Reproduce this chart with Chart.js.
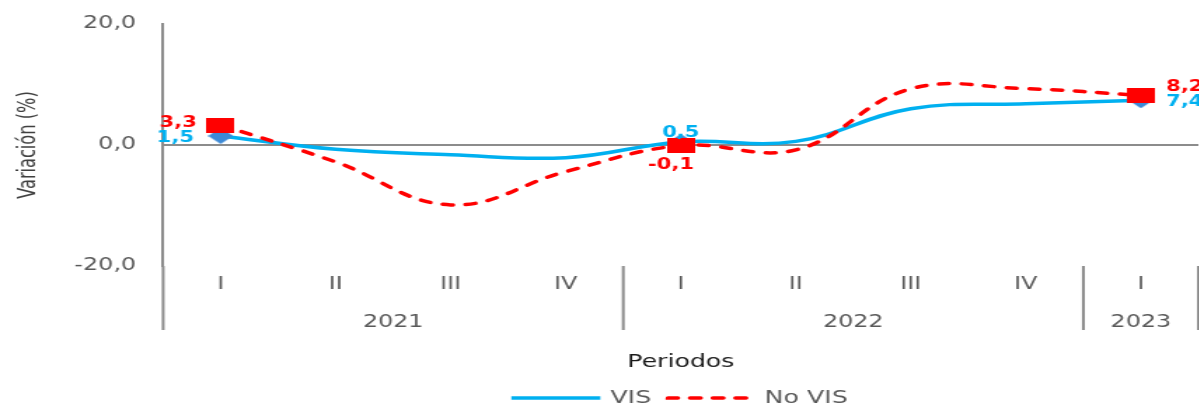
<!DOCTYPE html>
<html>
<head>
<meta charset="utf-8">
<script src="https://cdn.jsdelivr.net/npm/chart.js@4.4.0/dist/chart.umd.min.js"></script>
<style>
  html, body { margin: 0; padding: 0; background: #fff; overflow: hidden; }
  /* the reference is stretched sideways, so the chart is drawn narrower and widened */
  #wrap { width: 866.5px; height: 403px; transform: scaleX(1.4); transform-origin: 0 0; }
</style>
</head>
<body>
<div id="wrap"><canvas id="myChart"></canvas></div>
<script>
// Data
const quarters = ['I', 'II', 'III', 'IV', 'I', 'II', 'III', 'IV', 'I'];
const years = ['2021', '2022', '2023'];
const quartersPerYear = [4, 4, 1];
const vis = [1.5, -0.7, -1.6, -2.1, 0.5, 0.6, 6.0, 6.8, 7.4];
const noVis = [3.3, -2.8, -9.9, -4.4, -0.1, -0.8, 9.3, 9.3, 8.2];
const yTicks = [-20, 0, 20];
const labeled = [0, 4, 8];

const fmt = v => v.toFixed(1).replace('.', ',');

// Marker images
function makeMarker(w, h, color, diamond) {
    const c = document.createElement('canvas');
    c.width = w; c.height = h;
    const g = c.getContext('2d');
    g.fillStyle = color;
    if (diamond) {
        g.beginPath();
        g.moveTo(w / 2, 0); g.lineTo(w, h / 2); g.lineTo(w / 2, h); g.lineTo(0, h / 2);
        g.closePath(); g.fill();
    } else {
        g.fillRect(0, 0, w, h);
    }
    return c;
}
const diamond = makeMarker(18, 16, '#3d8ad6', true);
const square = makeMarker(20, 15, '#ff0000', false);

// Year groups and dividers under the quarter labels
const groups = {
    id: 'groups',
    afterDraw(chart) {
        const x = chart.scales.x, ctx = chart.ctx;
        const step = x.getPixelForValue(1) - x.getPixelForValue(0);
        const x0 = x.getPixelForValue(0) - step / 2;
        const edges = [0];
        quartersPerYear.forEach(n => edges.push(edges[edges.length - 1] + n));
        ctx.save();
        ctx.strokeStyle = '#8c8c8c';
        ctx.lineWidth = 2;
        edges.forEach(i => {
            ctx.beginPath();
            ctx.moveTo(x0 + i * step, chart.chartArea.bottom);
            ctx.lineTo(x0 + i * step, 330);
            ctx.stroke();
        });
        ctx.font = '17px "DejaVu Sans"';
        ctx.fillStyle = '#595959';
        ctx.textAlign = 'center';
        ctx.textBaseline = 'middle';
        years.forEach((y, k) => {
            const a = x.getPixelForValue(edges[k]);
            const b = x.getPixelForValue(edges[k + 1] - 1);
            ctx.fillText(y, (a + b) / 2, 323);
        });
        ctx.restore();
    }
};

// Data labels
const valueLabels = {
    id: 'valueLabels',
    afterDatasetsDraw(chart) {
        const ctx = chart.ctx;
        ctx.save();
        ctx.font = 'bold 15px "DejaVu Sans"';
        ctx.textBaseline = 'middle';
        chart.data.datasets.forEach((ds, di) => {
            const meta = chart.getDatasetMeta(di);
            labeled.forEach((idx, k) => {
                const pt = meta.data[idx];
                const pos = ds.labelPos[k];
                ctx.fillStyle = ds.borderColor;
                ctx.textAlign = pos[2];
                ctx.fillText(fmt(ds.data[idx]), pt.x + pos[0], pt.y + pos[1]);
            });
        });
        ctx.restore();
    }
};

Chart.defaults.font.family = '"DejaVu Sans", sans-serif';

const ctx = document.getElementById('myChart').getContext('2d');
const myChart = new Chart(ctx, {
    type: 'line',
    data: {
        labels: quarters,
        datasets: [{
            label: 'VIS',
            data: vis,
            borderColor: '#00b0f0',
            backgroundColor: '#00b0f0',
            borderWidth: 3.5,
            tension: 0.4,
            order: 1,
            pointStyle: diamond,
            pointRadius: c => labeled.includes(c.dataIndex) ? 8 : 0,
            labelPos: [[-19, 2.5, 'right'], [0, -9, 'center'], [18, 2, 'left']]
        }, {
            label: 'No VIS',
            data: noVis,
            borderColor: '#ff0000',
            backgroundColor: '#ff0000',
            borderWidth: 3.5,
            borderDash: [7, 9.2],
            borderCapStyle: 'round',
            tension: 0.4,
            order: 0,
            pointStyle: square,
            pointRadius: c => labeled.includes(c.dataIndex) ? 8 : 0,
            labelPos: [[-17, -1.7, 'right'], [-7, 20, 'center'], [18, -8, 'left']]
        }]
    },
    options: {
        animation: false,
        responsive: true,
        maintainAspectRatio: false,
        layout: { padding: { top: 24, right: 1.43, bottom: -14, left: 0 } },
        plugins: {
            tooltip: { enabled: false },
            legend: {
                position: 'bottom',
                fullSize: false,
                labels: {
                    boxWidth: 60,
                    boxHeight: 0.001,
                    padding: 12,
                    color: '#595959',
                    font: { size: 18 },
                    sort: (a, b) => a.datasetIndex - b.datasetIndex
                }
            }
        },
        scales: {
            x: {
                offset: true,
                grid: { display: true, drawOnChartArea: false, drawTicks: true, tickLength: 8, color: 'rgba(0,0,0,0)' },
                border: { display: false },
                ticks: { color: '#595959', font: { size: 17 }, padding: 0, autoSkip: false, maxRotation: 0 },
                title: { display: true, text: 'Periodos', color: '#1a1a1a', font: { size: 18 }, padding: { top: 0, bottom: 4 } },
                afterFit: s => { s.height = 111; s.paddingLeft = 0; s.paddingRight = 0; }
            },
            y: {
                min: -20,
                max: 20,
                afterBuildTicks: s => { s.ticks = yTicks.map(v => ({ value: v })); },
                grid: {
                    drawTicks: false,
                    lineWidth: 2,
                    color: c => c.tick && c.tick.value === 0 ? '#8c8c8c' : 'rgba(0,0,0,0)'
                },
                border: { display: true, color: '#8c8c8c', width: 2 },
                ticks: { color: '#595959', font: { size: 17 }, padding: 19.3, callback: v => fmt(v) },
                title: {
                    display: true,
                    text: 'Variación (%)',
                    color: '#404040',
                    font: { family: '"Liberation Sans Narrow", "DejaVu Sans Condensed", sans-serif', size: 18 },
                    padding: { top: 10, bottom: 0 }
                },
                afterFit: s => { s.width = 116.4; s.paddingTop = 0; s.paddingBottom = 0; }
            }
        }
    },
    plugins: [groups, valueLabels]
});
</script>
</body>
</html>
